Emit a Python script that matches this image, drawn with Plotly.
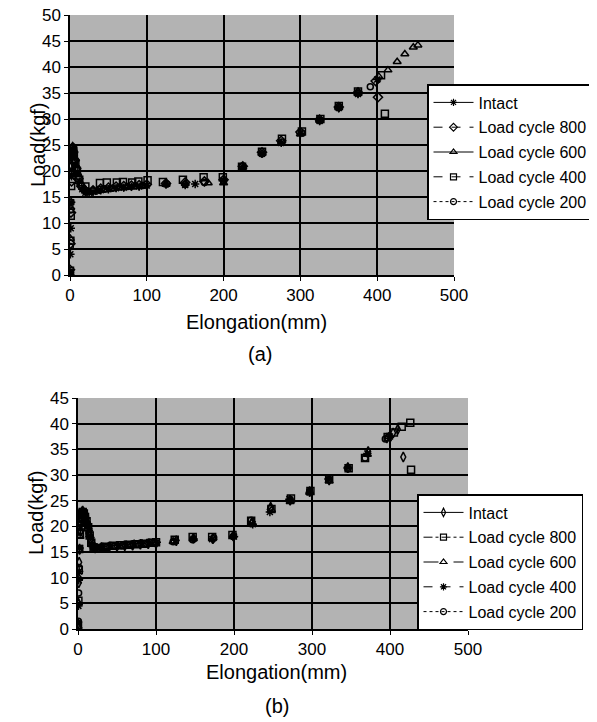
import plotly.graph_objects as go

# ---------------- data: chart (a) ----------------
a_names = ["Intact", "Load cycle 800", "Load cycle 600", "Load cycle 400", "Load cycle 200"]

a_intact_x = [0, 0.5, 1, 1.5, 2, 3, 4, 5, 7, 9, 12, 16, 20, 25, 30, 35, 40, 50, 60, 70, 80, 90, 100, 125, 150, 163, 200, 225, 250, 275, 300, 325, 350, 375, 400]
a_intact_y = [0.5, 4, 9, 14, 19, 22.5, 24, 23, 21, 19.5, 18, 16.5, 15.8, 15.8, 16, 16.2, 16.3, 16.5, 16.7, 16.8, 17, 17, 17.2, 17.5, 17.3, 17.5, 18.2, 20.8, 23.3, 25.4, 27.2, 29.6, 32.1, 34.8, 37.6]

a_800_x = [0, 0.6, 1.2, 2, 3, 4, 6, 8, 11, 15, 20, 30, 40, 50, 60, 70, 80, 90, 100, 125, 150, 175, 200, 225, 250, 275, 300, 325, 350, 375, 398, 401]
a_800_y = [1.0, 6, 12, 18, 22, 23.5, 22, 20.5, 18.5, 17, 16.2, 16.3, 16.6, 16.8, 17, 17.1, 17.2, 17.3, 17.4, 17.6, 17.8, 18, 18.3, 20.9, 23.6, 25.8, 27.5, 29.9, 32.3, 35.1, 37.3, 34.2]

a_600_x = [0, 0.4, 1, 1.8, 2.5, 3.5, 5, 6.5, 8, 10, 14, 18, 25, 35, 45, 55, 65, 75, 85, 95, 125, 150, 180, 200, 225, 250, 275, 300, 325, 350, 375, 402, 414, 426, 436, 447, 453]
a_600_y = [0.3, 7, 13, 19.5, 23.5, 24.8, 24, 22.5, 21, 19.5, 17.5, 16.5, 15.9, 16.1, 16.4, 16.6, 16.8, 16.9, 17, 17.1, 17.4, 17.6, 17.7, 17.7, 20.7, 23.4, 25.3, 27.1, 29.7, 32.2, 34.9, 38.2, 39.4, 41, 42.5, 43.8, 44.2]

a_400_x = [0, 0.5, 1, 1.5, 2, 3, 4, 5, 7, 9, 12, 20, 39, 48, 61, 69, 81, 89, 101, 121, 147, 174, 199, 224, 250, 276, 302, 326, 350, 375, 405, 410]
a_400_y = [0.8, 6.6, 11.4, 17.1, 21, 23.5, 24.2, 23, 21.5, 20, 18.3, 17, 17.7, 17.8, 17.8, 17.9, 17.8, 18, 18.2, 17.9, 18.3, 18.8, 18.8, 20.8, 23.7, 26.2, 27.6, 30, 32.5, 35.3, 38.4, 31]

a_200_x = [0, 0.4, 0.8, 1.3, 2, 2.8, 3.8, 5, 6.5, 8.5, 11, 15, 22, 30, 45, 55, 65, 75, 85, 95, 126, 150, 175, 200, 224, 250, 276, 302, 326, 350, 375, 391]
a_200_y = [0.6, 5.5, 12.5, 14, 20, 22.8, 24.6, 24.2, 22, 20.3, 19, 17.2, 16.2, 16.2, 16.5, 16.7, 16.9, 17, 17.1, 17.2, 17.5, 17.4, 17.8, 18.1, 20.9, 23.3, 25.6, 27.3, 29.7, 32.4, 35, 36.2]

# ---------------- data: chart (b) ----------------
b_names = ["Intact", "Load cycle 800", "Load cycle 600", "Load cycle 400", "Load cycle 200"]

b_intact_x = [0, 0.5, 1, 1.5, 2, 3, 4, 5, 6, 8, 10, 12, 14, 16, 18, 22, 30, 40, 50, 60, 70, 80, 90, 100, 126, 148, 173, 199, 223, 247, 272, 297, 322, 346, 372, 396, 404, 410, 417]
b_intact_y = [1.0, 5, 9, 13, 15.5, 19, 21.5, 22.8, 23, 22.6, 21.8, 20.5, 19, 17.5, 16.2, 15.8, 15.9, 16, 16.1, 16.2, 16.3, 16.5, 16.6, 16.7, 17.2, 17.7, 17.6, 18.1, 20.8, 23.7, 25.1, 26.8, 29, 31.4, 34.6, 37.2, 38.2, 38.9, 33.5]

b_800_x = [0, 0.5, 1, 1.5, 2.5, 3.5, 5, 6, 7.5, 9, 11, 13, 15, 17, 20, 25, 35, 45, 55, 65, 75, 85, 95, 100, 124, 147, 172, 198, 222, 248, 273, 298, 322, 347, 368, 397, 405, 415, 426, 427]
b_800_y = [0.8, 5.5, 11.5, 15.6, 18.5, 21, 22.5, 22.8, 22.5, 21.8, 21, 19.8, 18.2, 16.8, 15.9, 15.8, 16, 16.2, 16.3, 16.4, 16.5, 16.6, 16.8, 16.9, 17.4, 17.9, 17.9, 18.3, 21.1, 23.4, 25.4, 26.9, 29.3, 31.3, 33.3, 37.4, 38.3, 39.4, 40.2, 31]

b_600_x = [0, 0.5, 1, 1.8, 2.5, 3.5, 4.5, 6, 7.5, 9, 11, 13, 15, 18, 21, 28, 38, 48, 58, 68, 78, 88, 98, 122, 148, 173, 199, 223, 248, 272, 297, 322, 346, 371, 398]
b_600_y = [0.5, 5, 10, 15.3, 18, 20.5, 22, 22.7, 22.6, 22, 21, 19.8, 18.3, 16.4, 15.9, 15.8, 16, 16.1, 16.3, 16.4, 16.5, 16.7, 16.8, 17, 17.6, 17.7, 18.2, 20.7, 23.2, 24.8, 26.6, 28.8, 31.6, 34, 37.5]

b_400_x = [0, 0.5, 1, 1.5, 2, 3, 4, 5, 6.5, 8, 10, 12, 14, 16, 19, 24, 32, 42, 52, 62, 72, 82, 92, 101, 125, 148, 172, 200, 224, 246, 271, 297, 321, 346, 371, 400]
b_400_y = [1.3, 4.5, 9.5, 11.2, 15.8, 19.5, 21.8, 22.6, 22.9, 22.5, 21.6, 20.4, 19.2, 17.8, 16.2, 15.9, 16, 16.2, 16.3, 16.4, 16.6, 16.7, 16.8, 16.9, 17.3, 17.6, 17.5, 18, 20.4, 22.8, 25.3, 26.6, 29.2, 31.5, 34.2, 37.5]

b_200_x = [0, 0.4, 0.8, 1.3, 2, 3, 4, 5.5, 7, 8.5, 10, 12, 14, 17, 20, 26, 36, 46, 56, 66, 76, 86, 96, 122, 147, 174, 199, 222, 247, 272, 297, 322, 346, 368, 394]
b_200_y = [0.4, 1.5, 7, 12, 15.6, 19, 21.2, 22.5, 22.8, 22.3, 21.5, 20.2, 18.7, 16.9, 16, 15.8, 16, 16.1, 16.2, 16.4, 16.5, 16.6, 16.7, 17, 17.4, 17.8, 18, 21.2, 23.5, 25.2, 26.8, 29.1, 31.2, 33.3, 37]

# tick labels
a_yticks = [0, 5, 10, 15, 20, 25, 30, 35, 40, 45, 50]
b_yticks = [0, 5, 10, 15, 20, 25, 30, 35, 40, 45]
x_ticks = [0, 100, 200, 300, 400, 500]

# ---------------- styles ----------------
FONT = "Arial, Liberation Sans, sans-serif"
INK = "black"
a_symbols = ["asterisk-open", "diamond-open", "triangle-up-open", "square-open", "circle-open"]
a_dashes = ["solid", "dash", "solid", "dash", "dot"]
a_sizes = [7, 7, 7, 7, 6]
b_symbols = ["diamond-tall-open", "square-open", "triangle-up-open", "asterisk-open", "circle-open"]
b_dashes = ["solid", "dashdot", "longdash", "dash", "dot"]
b_sizes = [7, 7, 7, 7, 6]

a_series = [(a_intact_x, a_intact_y), (a_800_x, a_800_y), (a_600_x, a_600_y), (a_400_x, a_400_y), (a_200_x, a_200_y)]
b_series = [(b_intact_x, b_intact_y), (b_800_x, b_800_y), (b_600_x, b_600_y), (b_400_x, b_400_y), (b_200_x, b_200_y)]

fig = go.Figure()

for i, (xs, ys) in enumerate(a_series):
    fig.add_trace(go.Scatter(x=xs, y=ys, mode="markers", xaxis="x", yaxis="y", showlegend=False,
                             marker=dict(symbol=a_symbols[i], size=a_sizes[i], color=INK, line=dict(color=INK, width=1.5))))
for i, (xs, ys) in enumerate(b_series):
    fig.add_trace(go.Scatter(x=xs, y=ys, mode="markers", xaxis="x2", yaxis="y2", showlegend=False,
                             marker=dict(symbol=b_symbols[i], size=b_sizes[i], color=INK, line=dict(color=INK, width=1.5))))

# legend entries (line + marker glyphs as in the original)
for i, name in enumerate(a_names):
    fig.add_trace(go.Scatter(x=[None], y=[None], mode="lines+markers", name=name, xaxis="x", yaxis="y",
                             legend="legend", legendgroup="a%d" % i,
                             line=dict(color=INK, width=1, dash=a_dashes[i]),
                             marker=dict(symbol=a_symbols[i], size=6, color=INK, line=dict(color=INK, width=1.2))))
for i, name in enumerate(b_names):
    fig.add_trace(go.Scatter(x=[None], y=[None], mode="lines+markers", name=name, xaxis="x2", yaxis="y2",
                             legend="legend2", legendgroup="b%d" % i,
                             line=dict(color=INK, width=1, dash=b_dashes[i]),
                             marker=dict(symbol=b_symbols[i], size=6, color=INK, line=dict(color=INK, width=1.2))))

W, H = 597, 722
OFF = 8  # page offset of the figure inside the browser window
def px(x):
    return (x - OFF) / W
def py(y):
    return 1 - (y - OFF) / H

axis_common = dict(showline=True, linecolor=INK, linewidth=1.5, mirror=False, automargin=False,
                   showgrid=True, gridcolor=INK, gridwidth=1.5, zeroline=False,
                   ticks="outside", ticklen=4, tickwidth=1.2, tickcolor=INK,
                   ticklabeloverflow="allow",
                   tickfont=dict(family=FONT, size=17, color=INK))

legend_common = dict(bgcolor="white", bordercolor=INK, borderwidth=1.5,
                     font=dict(family=FONT, size=16, color=INK),
                     traceorder="grouped", tracegroupgap=1, itemwidth=40,
                     xanchor="left", yanchor="top")

fig.update_layout(
    width=W, height=H,
    margin=dict(l=0, r=0, t=0, b=0, autoexpand=False),
    paper_bgcolor="white",
    plot_bgcolor="#b3b3b3",
    showlegend=True,
    xaxis=dict(domain=[px(70), px(454)], range=[0, 500], tickvals=x_ticks, anchor="y", **axis_common),
    yaxis=dict(domain=[py(275), py(15)], range=[0, 50], tickvals=a_yticks, anchor="x", **axis_common),
    xaxis2=dict(domain=[px(78), px(468)], range=[0, 500], tickvals=x_ticks, anchor="y2", **axis_common),
    yaxis2=dict(domain=[py(629), py(398)], range=[0, 45], tickvals=b_yticks, anchor="x2", **axis_common),
    legend=dict(x=px(427), y=py(84), **legend_common),
    legend2=dict(x=px(417), y=py(494), **legend_common),
)

def label(text, x, y, size=20, angle=0):
    fig.add_annotation(text=text, x=px(x), y=py(y), xref="paper", yref="paper", showarrow=False,
                       textangle=angle, font=dict(family=FONT, size=size, color=INK),
                       xanchor="center", yanchor="middle")

label("Load(kgf)", 38, 145, angle=-90)
label("Elongation(mm)", 257, 322)
label("(a)", 260, 354)
label("Load(kgf)", 36, 513, angle=-90)
label("Elongation(mm)", 276, 672)
label("(b)", 277, 706)

fig.write_html("out.html")
